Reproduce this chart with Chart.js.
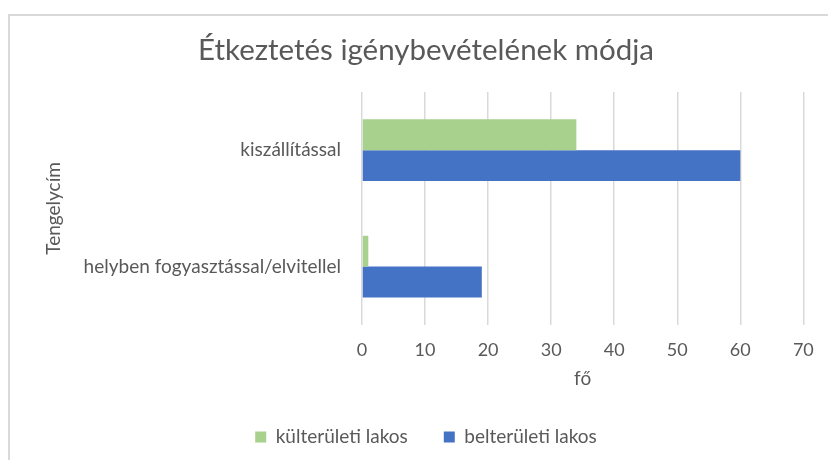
<!DOCTYPE html>
<html>
<head>
<meta charset="utf-8">
<script src="https://cdn.jsdelivr.net/npm/chart.js@4/dist/chart.umd.min.js"></script>
<style>
  html, body { margin: 0; padding: 0; background: #fff; }
  #wrap { width: 828px; height: 460px; }
</style>
</head>
<body>
<div id="wrap"><canvas id="c" width="828" height="460"></canvas></div>
<script>
const categories = ['kiszállítással', 'helyben fogyasztással/elvitellel'];
const kulteruleti = [34, 1];
const belteruleti = [60, 19];
const seriesNames = ['külterületi lakos', 'belterületi lakos'];
const xTicks = [0, 10, 20, 30, 40, 50, 60, 70];
const chartTitle = 'Étkeztetés igénybevételének módja';
const xTitle = 'fő';
const yTitle = 'Tengelycím';

const FONT = 'Lato, "Open Sans", sans-serif';
const TXT = '#595959';

const frame = {
  id: 'frame',
  beforeDraw(chart) {
    const ctx = chart.ctx;
    ctx.save();
    ctx.fillStyle = '#fff';
    ctx.fillRect(0, 0, chart.width, chart.height);
    ctx.strokeStyle = '#d9d9d9';
    ctx.lineWidth = 2;
    ctx.beginPath();
    ctx.moveTo(9, chart.height + 2);
    ctx.lineTo(9, 15);
    ctx.lineTo(chart.width + 2, 15);
    ctx.stroke();
    ctx.restore();
  }
};

new Chart(document.getElementById('c'), {
  type: 'bar',
  data: {
    labels: categories,
    datasets: [
      { label: seriesNames[0], data: kulteruleti, backgroundColor: '#a9d18e', borderWidth: 0 },
      { label: seriesNames[1], data: belteruleti, backgroundColor: '#4472c4', borderWidth: 0 }
    ]
  },
  options: {
    indexAxis: 'y',
    responsive: false,
    animation: false,
    devicePixelRatio: 1,
    layout: { padding: { top: 0, right: 22, bottom: 3.5, left: 46 } },
    datasets: { bar: { categoryPercentage: 0.53, barPercentage: 1.0 } },
    plugins: {
      title: {
        display: true,
        text: chartTitle,
        color: TXT,
        font: { family: FONT, size: 29.5, weight: 'normal' },
        padding: { top: 32.3, bottom: 24.3 }
      },
      legend: {
        position: 'bottom',
        labels: {
          color: TXT,
          font: { family: FONT, size: 19 },
          boxWidth: 11,
          boxHeight: 11,
          padding: 36
        }
      },
      tooltip: { enabled: false }
    },
    scales: {
      x: {
        min: 0,
        max: 70,
        afterBuildTicks(scale) { scale.ticks = xTicks.map(v => ({ value: v })); },
        grid: { color: '#d9d9d9', lineWidth: 1.5, drawTicks: false },
        border: { display: false },
        ticks: { color: TXT, font: { family: FONT, size: 18 }, padding: 14.2 },
        title: { display: true, text: xTitle, color: TXT, font: { family: FONT, size: 19 }, padding: { top: -7.2, bottom: 1.1 } }
      },
      y: {
        grid: { display: false, drawTicks: false },
        border: { display: false },
        ticks: { color: TXT, font: { family: FONT, size: 19 }, padding: 21 },
        title: { display: true, text: yTitle, color: TXT, font: { family: FONT, size: 19 }, padding: { top: -4, bottom: 0 } },
        afterFit(scale) { scale.width = 316; }
      }
    }
  },
  plugins: [frame]
});
</script>
</body>
</html>
